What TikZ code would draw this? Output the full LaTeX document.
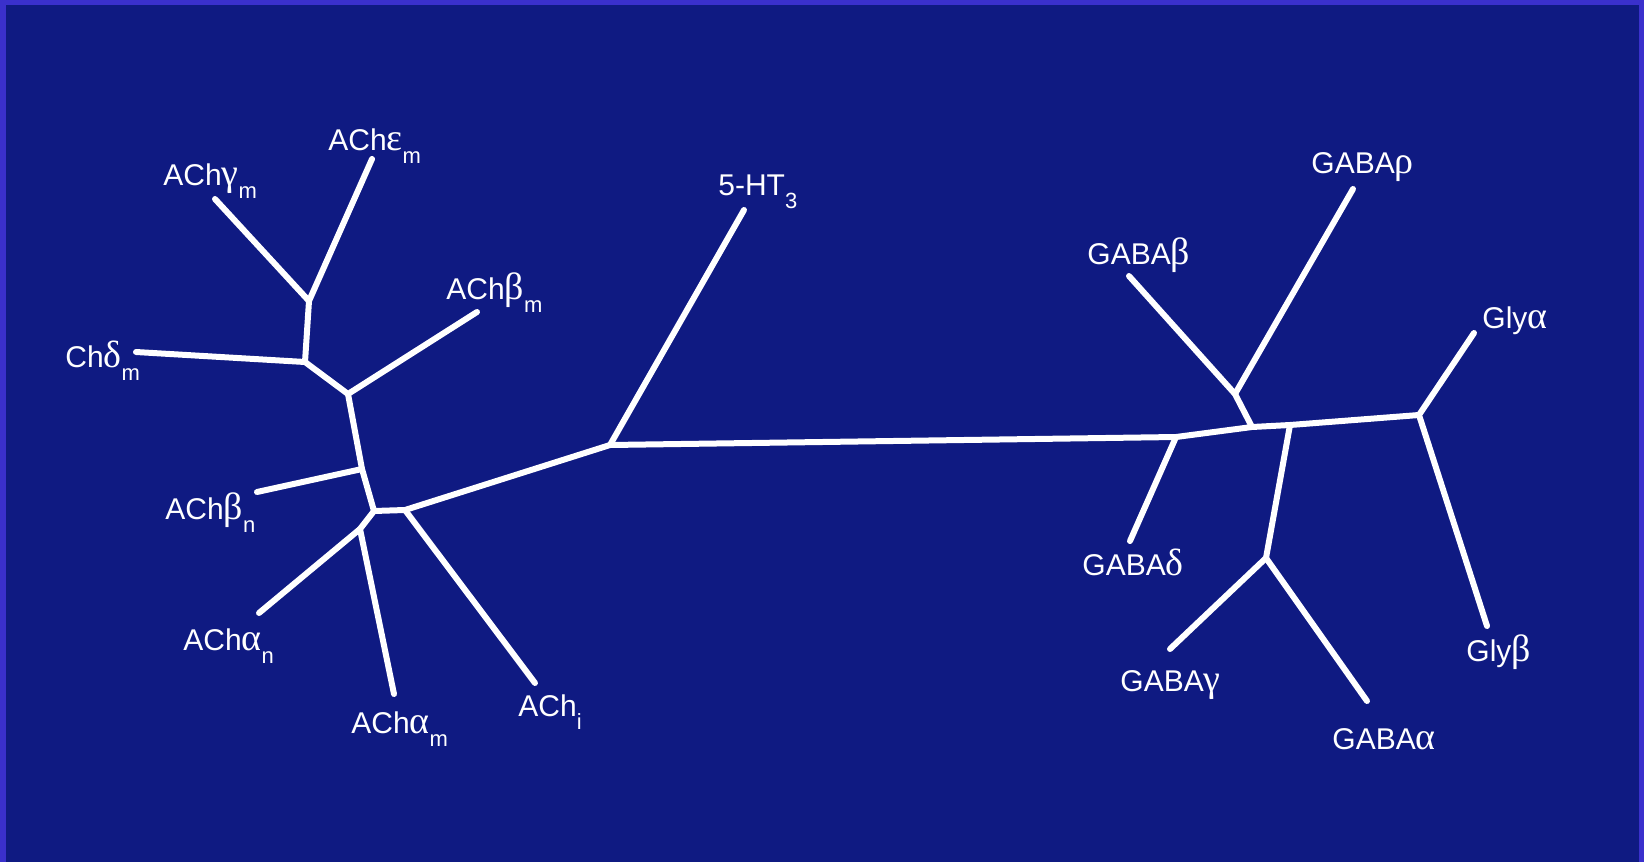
\documentclass[tikz,border=0pt]{standalone}
\usepackage{fontspec}
\setmainfont{Liberation Sans}
\newfontfamily\greekfont{Liberation Serif}
\definecolor{frameblue}{HTML}{3A30CC}
\definecolor{bgblue}{HTML}{0F1A82}
\newcommand\lsub[1]{\raisebox{-6.5pt}{\fontsize{11}{11}\selectfont #1}}
\newcommand\gk[1]{{\greekfont\fontsize{19}{19}\selectfont #1}}
\tikzset{
  branch/.style={draw=white, line width=3pt, line cap=round, line join=round},
  lbl/.style={text=white, anchor=base west, inner sep=0pt, font=\fontsize{15}{15}\selectfont}
}
\begin{document}
\begin{tikzpicture}[x=0.5pt,y=-0.5pt]
\useasboundingbox (0,0) rectangle (1644,862);
\fill[frameblue] (0,0) rectangle (1644,862);
\fill[bgblue] (6,5) rectangle (1639,862);

% ---- left cluster coordinates
\coordinate (tGam) at (215,199);
\coordinate (tEps) at (372,159);
\coordinate (jGE) at (309,301);
\coordinate (tDel) at (136,352);
\coordinate (jD) at (305,362);
\coordinate (tBm) at (477,312);
\coordinate (jBm) at (348,394);
\coordinate (tBn) at (257,492);
\coordinate (jBn) at (362,469);
\coordinate (jL) at (374,511);
\coordinate (jR) at (405,510);
\coordinate (jA) at (360,529);
\coordinate (tAn) at (259,613);
\coordinate (tAm) at (394,694);
\coordinate (tAi) at (535,683);
\coordinate (j5) at (610,445);
\coordinate (t5) at (744,210);
% ---- right cluster coordinates
\coordinate (jG1) at (1176,437);
\coordinate (tGd) at (1130,541);
\coordinate (jG2) at (1252,427);
\coordinate (jRho) at (1235,394);
\coordinate (tGb) at (1129,276);
\coordinate (tGr) at (1353,189);
\coordinate (jG3) at (1290,425);
\coordinate (jGA) at (1266,558);
\coordinate (tGg) at (1170,649);
\coordinate (tGa) at (1367,701);
\coordinate (jG4) at (1419,415);
\coordinate (tYa) at (1474,333);
\coordinate (tYb) at (1487,626);

% ---- branches
\draw[branch] (tGam) -- (jGE) -- (tEps);
\draw[branch] (jGE) -- (jD) -- (tDel);
\draw[branch] (jD) -- (jBm) -- (tBm);
\draw[branch] (jBm) -- (jBn) -- (tBn);
\draw[branch] (jBn) -- (jL) -- (jR);
\draw[branch] (jL) -- (jA) -- (tAn);
\draw[branch] (jA) -- (tAm);
\draw[branch] (jR) -- (tAi);
\draw[branch] (jR) -- (j5) -- (t5);
\draw[branch] (j5) -- (jG1) -- (jG2) -- (jG3) -- (jG4);
\draw[branch] (jG1) -- (tGd);
\draw[branch] (jG2) -- (jRho) -- (tGb);
\draw[branch] (jRho) -- (tGr);
\draw[branch] (jG3) -- (jGA) -- (tGg);
\draw[branch] (jGA) -- (tGa);
\draw[branch] (tYa) -- (jG4) -- (tYb);

% ---- labels
\node[lbl] (lEps) at (328,150) {ACh\gk{ε}\lsub{m}};
\node[lbl] (lGam) at (163,185) {ACh\gk{γ}\lsub{m}};
\node[lbl] (lBm) at (446,299) {ACh\gk{β}\lsub{m}};
\node[lbl] (lDel) at (65,367) {Ch\gk{δ}\lsub{m}};
\node[lbl] (lBn) at (165,519) {ACh\gk{β}\lsub{n}};
\node[lbl] (lAn) at (183,650) {ACh\gk{α}\lsub{n}};
\node[lbl] (lAm) at (351,733) {ACh\gk{α}\lsub{m}};
\node[lbl] (lAi) at (518,716) {ACh\lsub{i}};
\node[lbl] (l5) at (718,195) {5-HT\lsub{3}};
\node[lbl] (lGr) at (1311,173) {GABA\gk{ρ}};
\node[lbl] (lGb) at (1087,264) {GABA\gk{β}};
\node[lbl] (lYa) at (1482,328) {Gly\gk{α}};
\node[lbl] (lGd) at (1082,575) {GABA\gk{δ}};
\node[lbl] (lGg) at (1120,691) {GABA\gk{γ}};
\node[lbl] (lGa) at (1332,749) {GABA\gk{α}};
\node[lbl] (lYb) at (1466,661) {Gly\gk{β}};
\end{tikzpicture}
\end{document}
